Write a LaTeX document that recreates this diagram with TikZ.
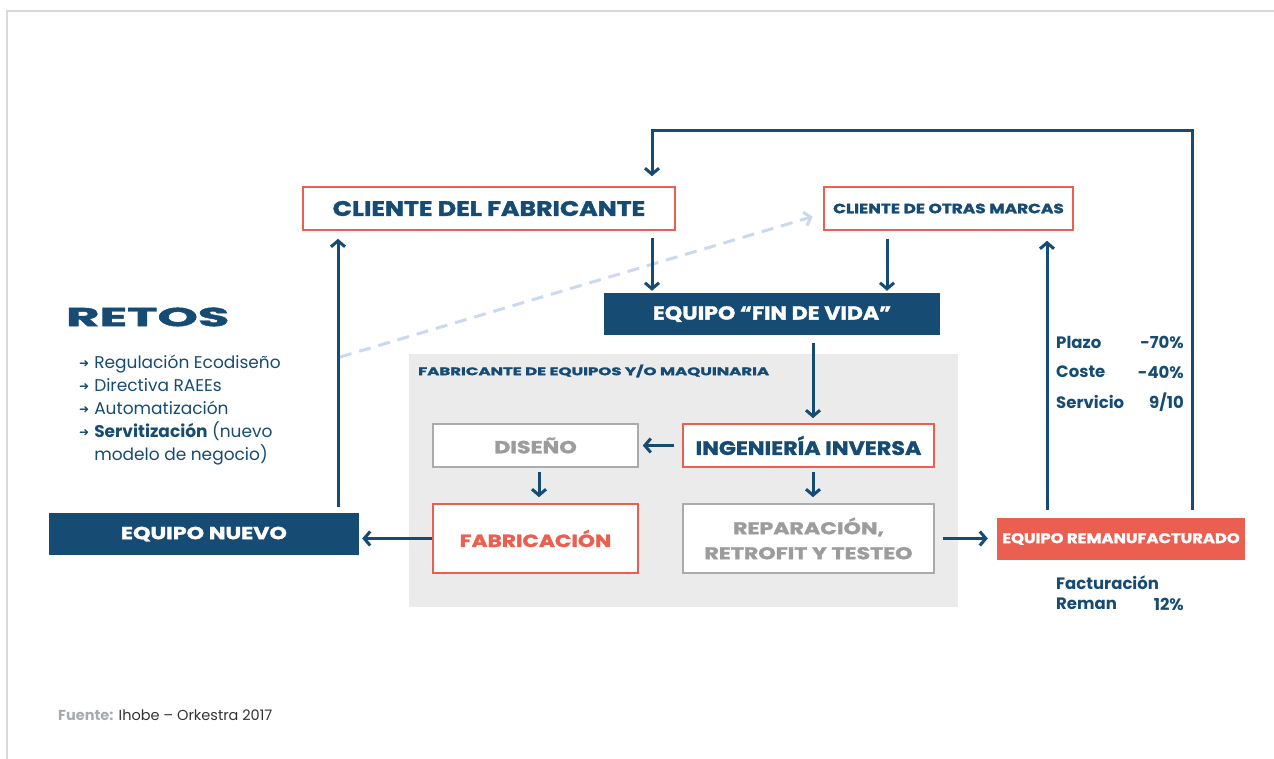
\documentclass[tikz,border=0pt]{standalone}
\usepackage{fontspec}
\setmainfont{Poppins}
\newfontfamily\dv{DejaVu Sans}
\newfontfamily\disp{Poppins}[FakeBold=1.5]
\usetikzlibrary{arrows.meta}
\definecolor{navy}{HTML}{164B73}
\definecolor{redc}{HTML}{EA5F4F}
\definecolor{gbord}{HTML}{ABABAB}
\definecolor{gtext}{HTML}{9C9C9C}
\definecolor{garea}{HTML}{EBEBEB}
\definecolor{dashc}{HTML}{CAD8F0}
\definecolor{framec}{HTML}{D9D9D9}
\definecolor{fuentec}{HTML}{A7ABAF}
\definecolor{darkc}{HTML}{333333}
\newcommand{\fs}[1]{\fontsize{#1}{#1}\selectfont}
\newcommand{\sx}[2]{\scalebox{#1}[1]{#2}}
\newcommand{\bul}{\raisebox{1pt}{\dv\fontsize{12}{12}\selectfont ➜}}
\tikzset{
 box/.style={draw, line width=1.6pt, fill=white, inner sep=0pt, align=center},
 redbox/.style={box, draw=redc},
 graybox/.style={box, draw=gbord, text=gtext},
 fillbox/.style={inner sep=0pt, align=center, text=white},
 conn/.style={draw=navy, line width=3pt, -{Straight Barb[length=6pt,width=14pt]}},
 plain/.style={inner sep=0pt, text=navy},
}
\begin{document}
\begin{tikzpicture}[x=1pt,y=-1pt]
\useasboundingbox (0,0) rectangle (1274,759);
\draw[framec, line width=1.5pt] (7,759) -- (7,11) -- (1274,11);
\fill[garea] (409,354) rectangle (958,607);
\node[plain, anchor=west, font=\disp\bfseries\fs{11}] (lab) at (418,371) {\sx{1.5}{FABRICANTE DE EQUIPOS Y/O MAQUINARIA}};

% main nodes
\node[redbox, minimum width=372pt, minimum height=43pt, text=navy, font=\disp\bfseries\fs{21}] (cdf) at (489,208.5) {\sx{1.2}{CLIENTE DEL FABRICANTE}};
\node[redbox, minimum width=249pt, minimum height=43pt, text=navy, font=\disp\bfseries\fs{13.5}] (com) at (948.5,208.5) {\sx{1.25}{CLIENTE DE OTRAS MARCAS}};
\node[fillbox, fill=navy, minimum width=336pt, minimum height=42pt, font=\disp\bfseries\fs{19}] (fin) at (772,314) {\sx{1.16}{EQUIPO “FIN DE VIDA”}};
\node[graybox, minimum width=205pt, minimum height=43pt, font=\disp\bfseries\fs{17.5}] (dis) at (535.5,445.5) {\sx{1.27}{DISEÑO}};
\node[redbox, minimum width=251pt, minimum height=43pt, text=navy, font=\disp\bfseries\fs{19.5}] (ing) at (808.5,445.5) {\sx{1.14}{INGENIERÍA INVERSA}};
\node[redbox, minimum width=205pt, minimum height=69pt, text=redc, font=\disp\bfseries\fs{17.5}] (fabr) at (535.5,538.5) {\sx{1.24}{FABRICACIÓN}};
\node[graybox, minimum width=251pt, minimum height=69pt, font=\disp\bfseries\fontsize{17}{25}\selectfont] (rep) at (808.5,538.5) {\sx{1.3}{REPARACIÓN,}\\\sx{1.3}{RETROFIT Y TESTEO}};
\node[fillbox, fill=navy, minimum width=310pt, minimum height=42pt, font=\disp\bfseries\fs{17.5}] (nue) at (204,534) {\sx{1.27}{EQUIPO NUEVO}};
\node[fillbox, fill=redc, minimum width=248pt, minimum height=42pt, font=\disp\bfseries\fs{14}] (rem) at (1121,539) {\sx{1.17}{EQUIPO REMANUFACTURADO}};

% RETOS
\node[plain, anchor=west, font=\disp\bfseries\fs{26}] (retos) at (66,317) {\sx{1.97}{RETOS}};
\node[plain, anchor=north west, font=\fontsize{17}{23}\selectfont] (list) at (79,352) {%
\begin{tabular}{@{}l@{\hspace{5pt}}l@{}}
\bul & Regulación Ecodiseño\\
\bul & Directiva RAEEs\\
\bul & Automatización\\
\bul & \textbf{Servitización} (nuevo\\
 & modelo de negocio)
\end{tabular}};

% indicators
\node[plain, anchor=west, font=\bfseries\fs{16.5}] (pl) at (1056,342) {Plazo};
\node[plain, anchor=east, font=\bfseries\fs{16.5}] (plv) at (1184,342) {-70\%};
\node[plain, anchor=west, font=\bfseries\fs{16.5}] (co) at (1056,372) {Coste};
\node[plain, anchor=east, font=\bfseries\fs{16.5}] (cov) at (1184,372) {-40\%};
\node[plain, anchor=west, font=\bfseries\fs{16.5}] (se) at (1056,402) {Servicio};
\node[plain, anchor=east, font=\bfseries\fs{16.5}] (sev) at (1184,402) {9/10};
\node[plain, anchor=west, font=\bfseries\fs{16.5}] (fa) at (1056,583) {Facturación};
\node[plain, anchor=west, font=\bfseries\fs{16.5}] (re) at (1056,604) {Reman};
\node[plain, anchor=east, font=\bfseries\fs{16.5}] (rev) at (1184,604) {12\%};

\node[inner sep=0pt, anchor=west, font=\fs{14.5}] (src) at (58,715) {\textcolor{fuentec}{\bfseries Fuente:} \textcolor{darkc}{Ihobe – Orkestra 2017}};

% x/y helper coordinates
\coordinate (xa) at (652,0);
\coordinate (xb) at (887,0);
\coordinate (xc) at (813,0);
\coordinate (xd) at (539,0);
\coordinate (xe) at (338,0);
\coordinate (xf) at (1047,0);
\coordinate (xg) at (1192,0);
\coordinate (ytop) at (0,131);
\coordinate (ds) at (340,357);

% dashed
\draw[draw=dashc, line width=3pt, dash pattern=on 12pt off 8pt, -{Straight Barb[length=6pt,width=14pt]}, shorten >=11pt] (ds) -- ([yshift=-5pt]com.west);

% connectors
\draw[conn, shorten <=7pt, shorten >=2pt] (cdf.south -| xa) -- (fin.north -| xa);
\draw[conn, shorten <=8pt, shorten >=2pt] (com.south -| xb) -- (fin.north -| xb);
\draw[conn, shorten <=8pt, shorten >=5pt] (fin.south -| xc) -- (ing.north -| xc);
\draw[conn, shorten <=8pt, shorten >=4pt] (ing.west) -- (dis.east);
\draw[conn, shorten <=4pt, shorten >=6pt] (dis.south -| xd) -- (fabr.north -| xd);
\draw[conn, shorten <=4pt, shorten >=6pt] (ing.south -| xc) -- (rep.north -| xc);
\draw[conn, shorten >=3pt] (fabr.west) -- (nue.east |- fabr.west);
\draw[conn, shorten <=8pt, shorten >=9pt] (rep.east) -- (rem.west |- rep.east);
\draw[conn, shorten <=6pt, shorten >=8pt] (nue.north -| xe) -- (cdf.south -| xe);
\draw[conn, shorten <=8pt, shorten >=10pt] (rem.north -| xf) -- (com.south -| xf);
\draw[conn, shorten <=8pt, shorten >=10pt] (rem.north -| xg) -- (xg |- ytop) -- (xa |- ytop) -- (cdf.north -| xa);
\end{tikzpicture}
\end{document}
